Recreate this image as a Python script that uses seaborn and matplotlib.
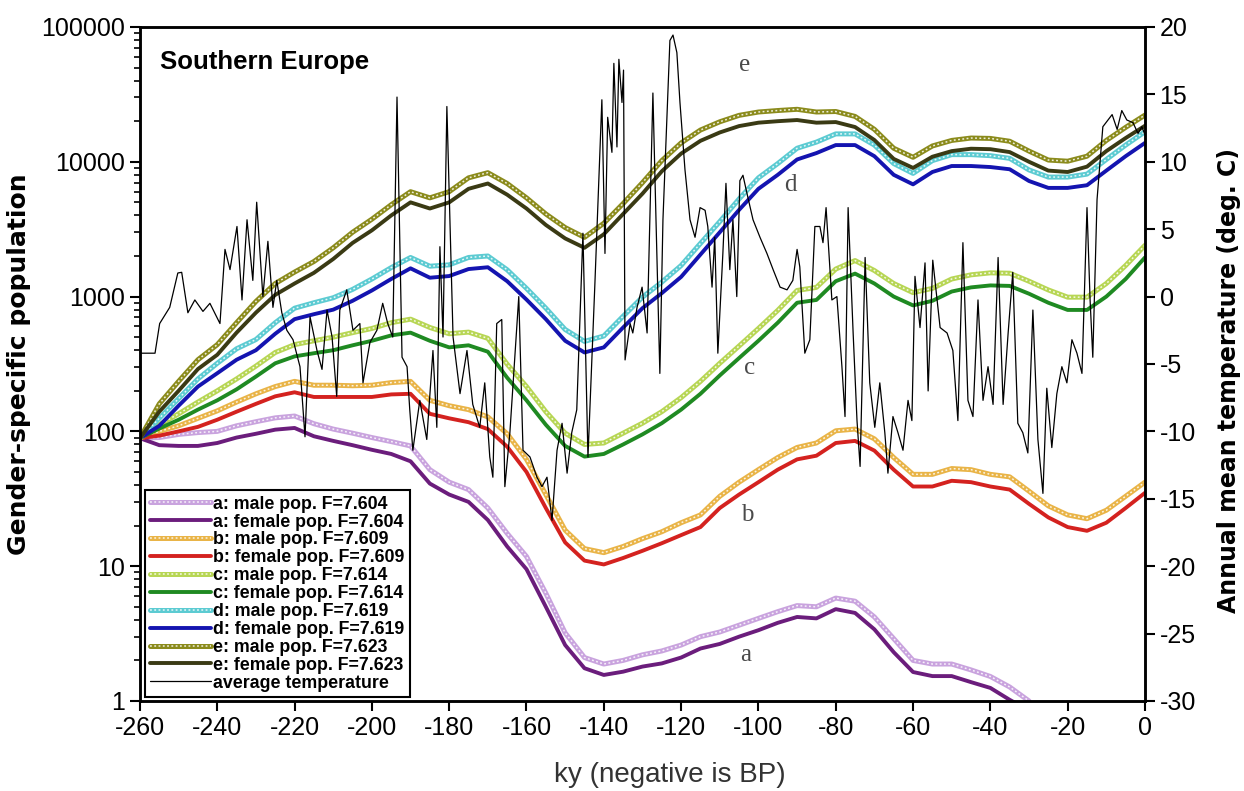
import numpy as np
import pandas as pd
import seaborn as sns
import matplotlib.pyplot as plt
from matplotlib.ticker import FuncFormatter, NullFormatter

sns.set_style("ticks")
plt.rcParams['font.family'] = ['Liberation Sans', 'DejaVu Sans']
plt.rcParams['axes.unicode_minus'] = False
plt.rcParams['text.color'] = 'black'
plt.rcParams['axes.labelcolor'] = 'black'
plt.rcParams['xtick.color'] = 'black'
plt.rcParams['ytick.color'] = 'black'

# time axis for the population curves (ky, negative is BP)
ky = np.arange(-260, 1, 5)

a_male = [89, 90, 95, 98, 100, 110, 118, 126, 130, 114, 104, 97, 90, 84, 78, 52, 42, 37, 27, 17.5,
          11.8, 6.3, 3.2, 2.1, 1.88, 2.0, 2.2, 2.35, 2.6, 3.0, 3.25, 3.65, 4.1, 4.6, 5.1, 5.0, 5.8,
          5.5, 4.2, 2.9, 2.0, 1.88, 1.88, 1.7, 1.52, 1.27, 1.0, np.nan, np.nan, np.nan, np.nan,
          np.nan, np.nan]
a_female = [89, 79, 78, 78, 82, 90, 96, 103, 106, 92, 85, 79, 73, 68, 60, 41, 34, 30, 22, 14,
            9.5, 5.0, 2.6, 1.75, 1.56, 1.65, 1.8, 1.9, 2.1, 2.45, 2.65, 3.0, 3.35, 3.8, 4.2, 4.1,
            4.8, 4.5, 3.4, 2.3, 1.64, 1.53, 1.53, 1.38, 1.25, 1.02, 0.85, np.nan, np.nan, np.nan,
            np.nan, np.nan, np.nan]
b_male = [89, 100, 110, 125, 142, 165, 190, 215, 235, 220, 220, 218, 220, 230, 235, 170, 155, 145,
          128, 96, 62, 34, 18.5, 13.5, 12.6, 14, 16, 18, 21, 24, 33, 42, 52, 64, 76, 82, 101, 104,
          88, 64, 48, 48, 53, 52, 48, 46, 36, 28, 24, 22.5, 26, 33, 42]
b_female = [89, 93, 100, 108, 122, 140, 160, 182, 195, 180, 180, 180, 180, 188, 190, 135, 125, 117,
            104, 77, 50, 27, 15, 11, 10.3, 11.5, 13, 14.8, 17, 19.5, 27, 34, 42, 52, 62, 66, 82, 85,
            72, 52, 39, 39, 43, 42, 39, 37, 29, 23, 19.5, 18.3, 21, 27, 35]
c_male = [89, 112, 135, 165, 200, 245, 305, 385, 440, 470, 500, 540, 580, 640, 680, 590, 530, 545,
          490, 315, 215, 140, 97, 80, 82, 97, 115, 140, 178, 235, 320, 430, 580, 790, 1110, 1170,
          1600, 1850, 1560, 1250, 1070, 1150, 1350, 1450, 1500, 1490, 1300, 1120, 990, 990, 1250,
          1700, 2400]
c_female = [89, 105, 122, 145, 170, 205, 255, 320, 360, 380, 400, 435, 470, 515, 540, 470, 420, 435,
            390, 250, 170, 112, 78, 65, 68, 80, 95, 115, 145, 190, 260, 350, 470, 640, 900, 944,
            1300, 1480, 1250, 1000, 860, 930, 1090, 1170, 1210, 1200, 1050, 900, 796, 796, 1000,
            1350, 1950]
d_male = [89, 125, 175, 245, 320, 410, 480, 640, 820, 900, 980, 1130, 1350, 1640, 1950, 1680, 1720,
          1950, 2000, 1580, 1150, 820, 570, 465, 510, 715, 990, 1280, 1700, 2480, 3600, 5300, 7600,
          9700, 12600, 14000, 16100, 16100, 13300, 9700, 8200, 10200, 11300, 11300, 11100, 10600,
          8700, 7700, 7700, 8100, 10400, 13300, 16700]
d_female = [89, 110, 155, 215, 270, 340, 400, 530, 680, 740, 800, 930, 1110, 1350, 1620, 1380, 1420,
            1600, 1650, 1300, 950, 680, 470, 385, 420, 590, 820, 1060, 1400, 2050, 3000, 4400, 6300,
            8000, 10400, 11600, 13300, 13300, 11000, 8000, 6800, 8400, 9300, 9300, 9140, 8800, 7200,
            6400, 6400, 6700, 8600, 11000, 13800]
e_male = [89, 160, 235, 340, 440, 640, 920, 1250, 1520, 1820, 2300, 3000, 3750, 4800, 6000, 5400,
          6000, 7600, 8300, 6900, 5400, 4100, 3250, 2750, 3500, 4900, 7000, 10200, 13800, 17200,
          19800, 22100, 23400, 24000, 24500, 23400, 23600, 21700, 17400, 12600, 10800, 13100, 14400,
          15000, 14900, 14200, 12000, 10300, 10100, 11000, 14400, 18000, 22200]
e_female = [89, 140, 200, 290, 370, 540, 760, 1030, 1250, 1500, 1900, 2500, 3100, 4000, 5000, 4500,
            5000, 6300, 6900, 5700, 4500, 3400, 2700, 2300, 2900, 4100, 5800, 8500, 11500, 14300,
            16500, 18400, 19500, 20000, 20400, 19500, 19700, 18100, 14500, 10500, 9000, 10900, 12000,
            12500, 12400, 11800, 10000, 8600, 8400, 9200, 12000, 15000, 18500]

# average temperature (deg. C)
temp_ky = [-260, -256.1, -254.9, -252.3, -250.2, -249.2, -247.6, -245.8, -243.7, -241.9, -239.3,
           -238.0, -236.7, -234.9, -233.6, -232.3, -230.8, -229.8, -228.2, -226.9, -225.6, -224.6,
           -223.3, -222.0, -220.4, -218.6, -217.3, -216.0, -214.2, -212.9, -211.6, -210.3, -209.1,
           -208.3, -206.5, -204.9, -203.1, -202.3, -200.5, -198.7, -197.2, -195.9, -194.6, -193.5,
           -192.2, -190.9, -190.2, -189.4, -187.6, -185.8, -184.2, -183.2, -182.4, -181.6, -180.6,
           -179.0, -177.2, -175.4, -173.9, -172.1, -170.8, -169.5, -168.7, -167.7, -166.4, -165.6,
           -164.3, -162.0, -160.9, -159.1, -157.3, -156.0, -154.7, -153.4, -152.1, -150.8, -149.5,
           -148.3, -147.0, -145.4, -144.1, -142.3, -140.5, -139.7, -139.0, -137.9, -137.4, -136.6,
           -136.1, -135.3, -134.9, -134.5, -133.2, -132.5, -131.4, -130.1, -128.8, -128.1, -127.3,
           -126.5, -125.5, -124.7, -123.7, -122.9, -122.1, -121.1, -120.3, -119.0, -117.7, -116.4,
           -115.1, -113.8, -113.1, -112.0, -111.3, -110.5, -109.2, -108.4, -107.4, -106.6, -105.6,
           -104.8, -104.0, -103.0, -101.4, -99.6, -97.8, -96.2, -94.4, -92.6, -91.1, -90.0, -89.3,
           -88.0, -86.7, -85.4, -84.1, -83.3, -82.5, -81.0, -79.7, -78.4, -77.6, -76.8, -75.5, -74.5,
           -73.7, -72.4, -71.2, -69.9, -68.6, -67.3, -66.5, -65.2, -63.9, -62.6, -61.3, -60.3, -59.5,
           -58.2, -56.9, -56.1, -54.9, -53.0, -51.2, -49.7, -48.4, -47.1, -45.8, -44.5, -43.2, -41.9,
           -40.6, -39.3, -38.0, -36.7, -35.4, -34.2, -32.9, -31.6, -30.3, -29.0, -27.7, -26.4, -25.4,
           -24.1, -22.8, -21.5, -20.2, -18.9, -17.6, -16.3, -15.0, -14.2, -13.5, -12.4, -10.9, -8.5,
           -7.2, -6.0, -4.7, -3.1, -1.8, -0.8, 0]
temp_c = [-4.2, -4.2, -2.0, -0.8, 1.75, 1.8, -1.2, -0.25, -1.1, -0.5, -2.0, 3.5, 2.0, 5.2, -0.25, 5.7,
          1.2, 7.0, 0.0, 4.1, -0.8, 1.2, -1.2, -2.5, -3.2, -5.2, -10.4, -1.5, -4.0, -5.4, -1.0, -3.0,
          -7.4, -1.0, 0.5, -2.5, -2.0, -6.4, -3.4, -2.5, -0.5, -2.0, -3.0, 14.8, -4.5, -5.2, -8.4,
          -11.4, -7.7, -10.6, -4.0, -9.7, 3.7, -3.0, 14.1, -3.0, -7.2, -4.0, -8.0, -9.7, -6.4, -11.9,
          -13.4, -2.0, -1.7, -14.1, -10.1, 0.0, -11.4, -11.9, -13.4, -14.1, -13.4, -16.6, -11.4, -9.4,
          -13.1, -10.1, -8.4, 4.7, -11.9, 1.0, 14.6, 3.2, 13.3, 10.7, 17.3, 11.1, 17.6, 14.4, 16.8,
          -4.7, -2.0, -2.7, -0.8, 0.7, -2.7, 5.7, 15.1, 5.7, -5.7, 5.7, 13.1, 19.0, 19.4, 18.1, 14.4,
          9.4, 5.7, 4.4, 6.6, 6.4, 5.2, 0.7, 4.4, -4.2, 3.2, 8.4, 2.0, 5.7, 0.0, 8.6, 9.0, 7.7, 5.7,
          4.4, 3.2, 2.0, 0.7, 0.5, 1.2, 3.5, 2.2, -4.2, -3.2, 5.2, 5.2, 4.0, 6.6, -0.25, 0.0, -5.2,
          -8.9, 6.6, -2.7, -9.2, -12.6, 2.9, -6.4, -9.7, -6.4, -10.1, -13.1, -8.9, -10.1, -11.4, -7.7,
          -9.2, 1.5, -2.3, 2.5, -7.0, 2.7, -2.3, -2.7, -4.0, -9.2, 4.0, -7.7, -8.9, -0.25, -7.7, -5.2,
          -8.0, 2.9, -8.0, -2.7, 1.8, -9.4, -10.1, -11.6, -1.0, -10.6, -14.6, -6.8, -11.2, -7.2, -5.2,
          -6.4, -3.2, -4.2, -5.7, 6.6, -0.25, -4.5, 7.2, 12.6, 13.5, 12.4, 13.8, 13.1, 12.9, 12.1,
          12.6, 12.0]

series = [
    ("a: male pop. F=7.604", a_male, '#c9a3de', True),
    ("a: female pop. F=7.604", a_female, '#6b1d7c', False),
    ("b: male pop. F=7.609", b_male, '#e9b447', True),
    ("b: female pop. F=7.609", b_female, '#d4221f', False),
    ("c: male pop. F=7.614", c_male, '#b7d654', True),
    ("c: female pop. F=7.614", c_female, '#1f8a22', False),
    ("d: male pop. F=7.619", d_male, '#5ccbd2', True),
    ("d: female pop. F=7.619", d_female, '#1414b0', False),
    ("e: male pop. F=7.623", e_male, '#8b8b1c', True),
    ("e: female pop. F=7.623", e_female, '#3a3a14', False),
]

fig, ax = plt.subplots(figsize=(12.44, 7.91), dpi=100)
fig.subplots_adjust(left=0.1125, right=0.9204, bottom=0.1138, top=0.9659)

handles = []
labels = []
for label, vals, col, male in series:
    df = pd.DataFrame({'ky': ky, 'pop': vals}).dropna()
    if male:
        sns.lineplot(data=df, x='ky', y='pop', ax=ax, color=col, lw=3.6)
        base = ax.lines[-1]
        sns.lineplot(data=df, x='ky', y='pop', ax=ax, color='white', lw=1.1,
                     linestyle=(0, (1.2, 1.6)), alpha=0.85)
        handles.append((base, ax.lines[-1]))
    else:
        sns.lineplot(data=df, x='ky', y='pop', ax=ax, color=col, lw=2.8)
        handles.append(ax.lines[-1])
    labels.append(label)

ax.set_yscale('log')
ax.set_ylim(1, 100000)
ax.set_xlim(-260, 0)
ax.set_xticks(range(-260, 1, 20))
ax.yaxis.set_major_formatter(FuncFormatter(lambda v, p: '%d' % round(v)))
ax.yaxis.set_minor_formatter(NullFormatter())
ax.tick_params(axis='both', which='major', labelsize=18, width=1.5, length=7, direction='out')
ax.tick_params(axis='y', which='minor', width=1.2, length=4, direction='out')
for s in ax.spines.values():
    s.set_linewidth(1.8)
    s.set_color('black')

ax.set_xlabel('ky (negative is BP)', fontsize=20, color='#333333')
ax.xaxis.set_label_coords(0.527, -0.09)
ax.set_ylabel('Gender-specific population', fontsize=18, fontweight='bold', family='DejaVu Sans')
ax.yaxis.set_label_coords(-0.1085, 0.5)

ax.text(0.02, 0.948, 'Southern Europe', transform=ax.transAxes, fontsize=18.5,
        fontweight='bold', va='center', ha='left')

# curve letters
letter_ky = [-103.5, -91.8, -102.2, -103.0, -103.2]
letter_pop = [52000, 6700, 295, 24, 2.2]
for txt, xk, yp in zip(['e', 'd', 'c', 'b', 'a'], letter_ky, letter_pop):
    ax.text(xk, yp, txt, fontsize=18, color='#4a4a4a', family='Liberation Serif',
            ha='center', va='center')

# temperature on the right axis
ax2 = ax.twinx()
sns.lineplot(x=temp_ky, y=temp_c, ax=ax2, color='black', lw=0.9, sort=False)
temp_line = ax2.lines[-1]
ax2.set_ylim(-30, 20)
ax2.set_yticks(range(-30, 21, 5))
ax2.set_xlim(-260, 0)
ax2.tick_params(axis='y', labelsize=18, width=1.5, length=7, direction='out')
for s in ax2.spines.values():
    s.set_linewidth(1.8)
    s.set_color('black')
ax2.set_ylabel('Annual mean temperature (deg. C)', fontsize=17, fontweight='bold',
               family='DejaVu Sans')
ax2.yaxis.set_label_coords(1.072, 0.476)

handles.append(temp_line)
labels.append('average temperature')
leg = ax2.legend(handles, labels, loc='lower left', bbox_to_anchor=(0.005, 0.006),
                 borderaxespad=0, frameon=True, fancybox=False, edgecolor='black',
                 prop={'weight': 'bold', 'size': 12.8}, handlelength=3.4,
                 handletextpad=0.15, labelspacing=0.05, borderpad=0.3)
leg.get_frame().set_linewidth(1.5)
leg.get_frame().set_alpha(1)

fig.savefig('out.png', dpi=100)
